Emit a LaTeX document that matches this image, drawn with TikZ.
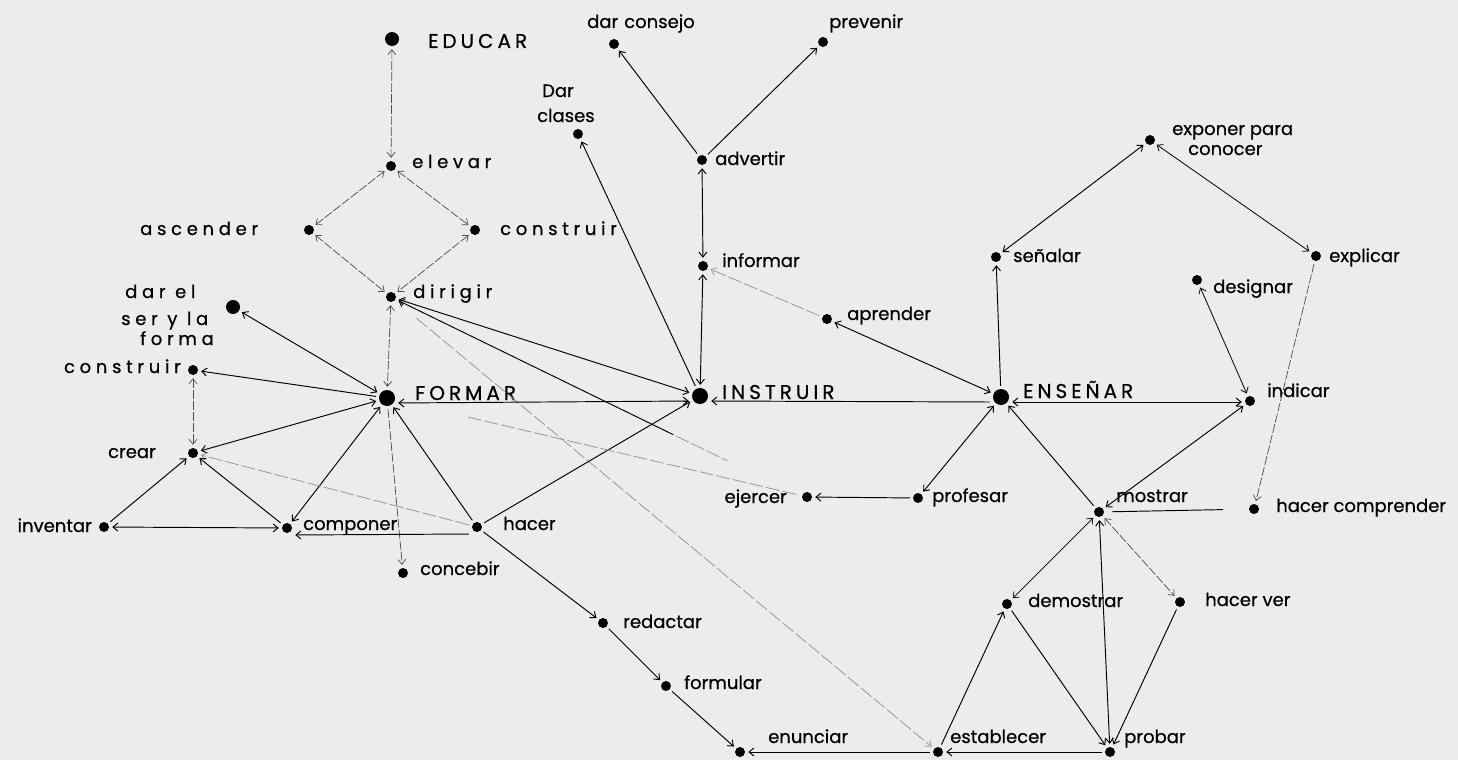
\documentclass[tikz,border=0pt]{standalone}
\usepackage{fontspec}
\setmainfont{Poppins}[FakeBold=0.6]
\newfontfamily\lspfont{Poppins}[LetterSpace=26,FakeBold=0.6]
\newfontfamily\cspfont{Poppins}[LetterSpace=20,FakeBold=0.6]
\usetikzlibrary{arrows.meta}
\definecolor{paper}{RGB}{236,236,236}
\begin{document}
\begin{tikzpicture}[x=1pt,y=-1pt,
  dot/.style={circle,fill=black,inner sep=0pt,minimum size=10pt},
  bigdot/.style={circle,fill=black,inner sep=0pt,minimum size=16pt},
  lab/.style={inner sep=0pt,anchor=base west,font=\fontsize{18}{20}\selectfont},
  labr/.style={lab,anchor=base east},
  slab/.style={lab,font=\lspfont\fontsize{18}{20}\selectfont},
  slabr/.style={slab,anchor=base east},
  clab/.style={lab,font=\cspfont\fontsize{20}{22}\selectfont},
  ln/.style={line width=0.95pt,shorten >=3pt,shorten <=3pt},
  fd/.style={ln,draw=black!70,line width=0.7pt,dash pattern=on 9pt off 2pt},
  faint/.style={ln,draw=black!40,line width=0.8pt,dash pattern=on 14pt off 3pt},
  >={Straight Barb[length=5pt,width=8pt]}
]
\fill[paper] (0,0) rectangle (1458,760);
\useasboundingbox (0,0) rectangle (1458,760);

% ---------- dots ----------
\node[bigdot,minimum size=14pt] (educar) at (392,39) {};
\node[dot] (elevar) at (391,166) {};
\node[dot] (ascender) at (309,230) {};
\node[dot] (construirT) at (475,230) {};
\node[dot] (dirigir) at (391,297) {};
\node[bigdot,minimum size=14pt] (darel) at (233,307) {};
\node[dot] (construirL) at (193,370) {};
\node[bigdot] (formar) at (387,398) {};
\node[dot] (crear) at (193,453) {};
\node[dot] (inventar) at (104,527) {};
\node[dot] (componer) at (287,528) {};
\node[dot] (hacer) at (477,527) {};
\node[dot] (concebir) at (403,573) {};
\node[dot] (redactar) at (603,623) {};
\node[dot] (formular) at (666,686) {};
\node[dot] (enunciar) at (740,752) {};
\node[dot] (establecer) at (938,752) {};
\node[dot] (probar) at (1110,752) {};
\node[dot] (demostrar) at (1007,604) {};
\node[dot] (hacerver) at (1180,602) {};
\node[dot] (mostrar) at (1099,512) {};
\node[dot] (hacercomp) at (1254,509) {};
\node[dot] (ejercer) at (807,497) {};
\node[dot] (profesar) at (918,498) {};
\node[bigdot] (instruir) at (700,396) {};
\node[bigdot] (ensenar) at (1001,397) {};
\node[dot] (indicar) at (1250,401) {};
\node[dot] (designar) at (1197,280) {};
\node[dot] (explicar) at (1316,256) {};
\node[dot] (senalar) at (996,257) {};
\node[dot] (exponer) at (1150,140) {};
\node[dot] (aprender) at (827,319) {};
\node[dot] (informar) at (703,266) {};
\node[dot] (advertir) at (702,160) {};
\node[dot] (darconsejo) at (614,44) {};
\node[dot] (prevenir) at (823,42) {};
\node[dot] (darclases) at (578,134) {};

% ---------- labels ----------
\node[clab] (t-educar) at (428,48) {EDUCAR};
\node[slab] (t-elevar) at (412,168) {elevar};
\node[slab] (t-ascender) at (140,235) {ascender};
\node[slab] (t-construirT) at (500,235) {construir};
\node[slab] (t-dirigir) at (413,298) {dirigir};
\node[slab] (t-darel1) at (125,298) {dar el};
\node[slab] (t-darel2) at (121,325) {ser y la};
\node[slab] (t-darel3) at (140,345) {forma};
\node[slabr] (t-construirL) at (181,373) {construir};
\node[clab] (t-formar) at (415,400) {FORMAR};
\node[labr] (t-crear) at (156,458) {crear};
\node[labr] (t-inventar) at (92,532) {inventar};
\node[lab] (t-componer) at (303,530) {componer};
\node[lab] (t-hacer) at (503,530) {hacer};
\node[lab] (t-concebir) at (420,575) {concebir};
\node[lab] (t-redactar) at (623,628) {redactar};
\node[lab] (t-formular) at (684,689) {formular};
\node[lab] (t-enunciar) at (768,743) {enunciar};
\node[lab] (t-establecer) at (950,743) {establecer};
\node[lab] (t-probar) at (1124,743) {probar};
\node[lab] (t-demostrar) at (1028,607) {demostrar};
\node[lab] (t-hacerver) at (1205,606) {hacer ver};
\node[lab] (t-mostrar) at (1116,502) {mostrar};
\node[lab] (t-hacercomp) at (1276,512) {hacer comprender};
\node[labr] (t-ejercer) at (787,503) {ejercer};
\node[lab] (t-profesar) at (932,502) {profesar};
\node[clab] (t-instruir) at (722,399) {INSTRUIR};
\node[clab] (t-ensenar) at (1023,398) {ENSEÑAR};
\node[lab] (t-indicar) at (1267,397) {indicar};
\node[lab] (t-designar) at (1213,293) {designar};
\node[lab] (t-explicar) at (1329,262) {explicar};
\node[lab] (t-senalar) at (1013,262) {señalar};
\node[lab] (t-exponer1) at (1172,135) {exponer para};
\node[lab] (t-exponer2) at (1188,155) {conocer};
\node[lab] (t-aprender) at (847,320) {aprender};
\node[lab] (t-informar) at (722,267) {informar};
\node[lab] (t-advertir) at (715,165) {advertir};
\node[lab] (t-darconsejo) at (587,28) {dar\,\,consejo};
\node[lab] (t-prevenir) at (829,28) {prevenir};
\node[lab] (t-dar) at (542,97) {Dar};
\node[lab] (t-clases) at (537,122) {clases};

\coordinate (fadeA) at (676,436);
\coordinate (fadeB) at (730,462);

% ---------- connectors ----------
% upper left diamond
\draw[fd,<->] (educar) -- (elevar);
\draw[fd,<->] (elevar) -- (ascender);
\draw[fd,<->] (elevar) -- (construirT);
\draw[fd,<->] (ascender) -- (dirigir);
\draw[fd,<->] (construirT) -- (dirigir);
\draw[fd,<->] (dirigir) -- (formar);
\draw[ln,<->] (dirigir) -- (instruir);
\draw[ln,<-] (dirigir) -- (fadeA);
\draw[faint,shorten <=0pt] (fadeA) -- (fadeB);
\draw[faint,->,shorten <=28pt] (dirigir) -- (establecer);

% around FORMAR
\draw[ln,<->] (darel) -- (formar);
\draw[ln,->] (formar) -- (construirL);
\draw[ln,<->] (crear) -- (formar);
\draw[ln,<->] (componer) -- (formar);
\draw[fd,->] (formar) -- (concebir);
\draw[ln,->] (hacer) -- (formar);
\draw[ln,->] (hacer) -- (instruir);
\draw[faint,->] (hacer) -- (crear);
\draw[ln,->] ([yshift=-7pt]hacer.west) -- ([yshift=-7pt]componer.east);
\draw[ln,<->] (inventar) -- (componer);
\draw[ln,->] (inventar) -- (crear);
\draw[ln,->] (componer) -- (crear);
\draw[fd,<->] (construirL) -- (crear);
\draw[faint,shorten <=75pt] (formar) -- (ejercer);

% lower chain
\draw[ln,->] (hacer) -- (redactar);
\draw[ln,->] (redactar) -- (formular);
\draw[ln,->] (formular) -- (enunciar);
\draw[ln,->] (establecer) -- (enunciar);
\draw[ln,->] (probar) -- (establecer);
\draw[ln,->] (establecer) -- (demostrar);
\draw[ln,->] (demostrar) -- (probar);
\draw[ln,<->] (mostrar) -- (probar);
\draw[ln,<->,line width=0.7pt] (mostrar) -- (demostrar);
\draw[fd,<->] (mostrar) -- (hacerver);
\draw[ln,->] (hacerver) -- (probar);
\draw[ln,->] (mostrar) -- (ensenar);
\draw[ln,<->] (mostrar) -- (indicar);
\draw[ln,shorten >=26pt,shorten <=8pt] (mostrar) -- (hacercomp);

% right cluster
\draw[fd,->] (explicar) -- (hacercomp);
\draw[ln,<->,line width=0.8pt] (exponer) -- (explicar);
\draw[ln,<->] (senalar) -- (exponer);
\draw[ln,->] (ensenar) -- (senalar);
\draw[ln,<->,line width=0.8pt] (designar) -- (indicar);
\draw[ln,<->] ([yshift=-5pt]ensenar.east) -- ([yshift=-1pt]indicar.west);
\draw[ln,->] ([yshift=-5pt]ensenar.west) -- ([yshift=-5pt]instruir.east);
\draw[ln,<->] ([yshift=-5pt]formar.east) -- ([yshift=-5pt]instruir.west);
\draw[ln,<->] (aprender) -- (ensenar);
\draw[faint,->] (aprender) -- (informar);
\draw[ln,<->] (ensenar) -- (profesar);
\draw[ln,->] (profesar) -- (ejercer);

% top middle
\draw[ln,<->] (instruir) -- (informar);
\draw[ln,<->] (informar) -- (advertir);
\draw[ln,->] (advertir) -- (darconsejo);
\draw[ln,->] (advertir) -- (prevenir);
\draw[ln,->] (instruir) -- (darclases);
\end{tikzpicture}
\end{document}
